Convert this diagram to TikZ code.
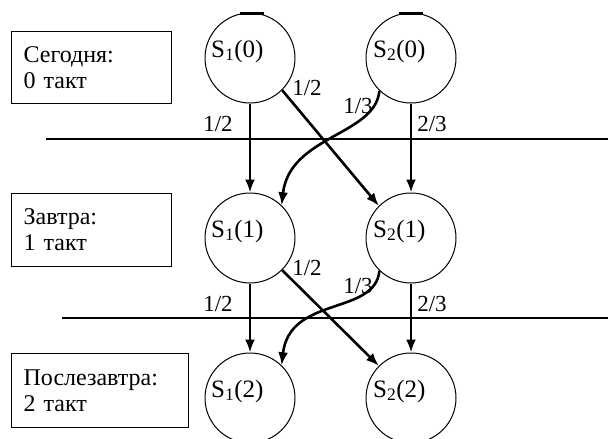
\documentclass[tikz,border=0pt]{standalone}
\usepackage{fontspec}
\setmainfont{Liberation Serif}
\usetikzlibrary{arrows.meta}
\begin{document}
\begin{tikzpicture}[x=1pt,y=-1pt,
  state/.style={circle, draw, line width=1pt, minimum size=90pt, inner sep=0pt},
  slabel/.style={font=\fontsize{25}{28}\selectfont, inner sep=0pt, anchor=west},
  prob/.style={font=\fontsize{23}{26}\selectfont, inner sep=0pt},
  infobox/.style={draw, line width=1.2pt, anchor=north west, align=left, inner xsep=12pt,
    font=\fontsize{24}{26}\selectfont},
  arr/.style={line width=2.6pt, -{Latex[length=13pt,width=10pt]}},
  sepline/.style={line width=1.5pt},
  topmark/.style={line width=2.5pt}]
\useasboundingbox (0,0) rectangle (608,439);
\clip (0,0) rectangle (608,439);

% info boxes
\node[infobox, text width=136pt, minimum height=72pt] (b0) at (11,31) {Сегодня:\\0 такт};
\node[infobox, text width=136pt, minimum height=73pt] (b1) at (11,193) {Завтра:\\1 такт};
\node[infobox, text width=153pt, minimum height=74pt] (b2) at (11,353) {Послезавтра:\\2 такт};

% separator lines
\coordinate (l1a) at (46,139);
\coordinate (l1b) at (608,139);
\coordinate (l2a) at (62,318);
\coordinate (l2b) at (608,318);
\draw[sepline] (l1a) -- (l1b);
\draw[sepline] (l2a) -- (l2b);

% states
\node[state] (s10) at (250,58) {};
\node[state] (s20) at (411,58) {};
\node[state] (s11) at (250,238) {};
\node[state] (s21) at (411,238) {};
\node[state] (s12) at (250,398) {};
\node[state] (s22) at (411,398) {};

\draw[topmark] ([xshift=-10pt,yshift=-1pt]s10.north) -- ([xshift=14pt,yshift=-1pt]s10.north);
\draw[topmark] ([xshift=-12pt,yshift=-1pt]s20.north) -- ([xshift=12pt,yshift=-1pt]s20.north);

% state labels
\node[slabel] (t10) at (211,51) {S\textsubscript{1}(0)};
\node[slabel] (t20) at (373,51) {S\textsubscript{2}(0)};
\node[slabel] (t11) at (211,231) {S\textsubscript{1}(1)};
\node[slabel] (t21) at (373,231) {S\textsubscript{2}(1)};
\node[slabel] (t12) at (211,391) {S\textsubscript{1}(2)};
\node[slabel] (t22) at (373,391) {S\textsubscript{2}(2)};

% level 0 -> 1
\draw[arr] (s10) -- (s11);
\draw[arr] (s10.-45) -- (s21.135);
\draw[arr] (s20.226) .. controls +(-4,45) and +(8,-70) .. (s11.46);
\draw[arr] (s20) -- (s21);

% level 1 -> 2
\draw[arr] (s11) -- (s12);
\draw[arr] (s11.-45) -- (s22.135);
\draw[arr] (s21.226) .. controls +(-4,45) and +(8,-70) .. (s12.46);
\draw[arr] (s21) -- (s22);

% probabilities
\node[prob] (p1) at (218,124) {1/2};
\node[prob] (p2) at (307,88) {1/2};
\node[prob] (p3) at (358,106) {1/3};
\node[prob] (p4) at (432,124) {2/3};
\node[prob] (p5) at (218,304) {1/2};
\node[prob] (p6) at (307,268) {1/2};
\node[prob] (p7) at (358,286) {1/3};
\node[prob] (p8) at (432,304) {2/3};
\end{tikzpicture}
\end{document}
